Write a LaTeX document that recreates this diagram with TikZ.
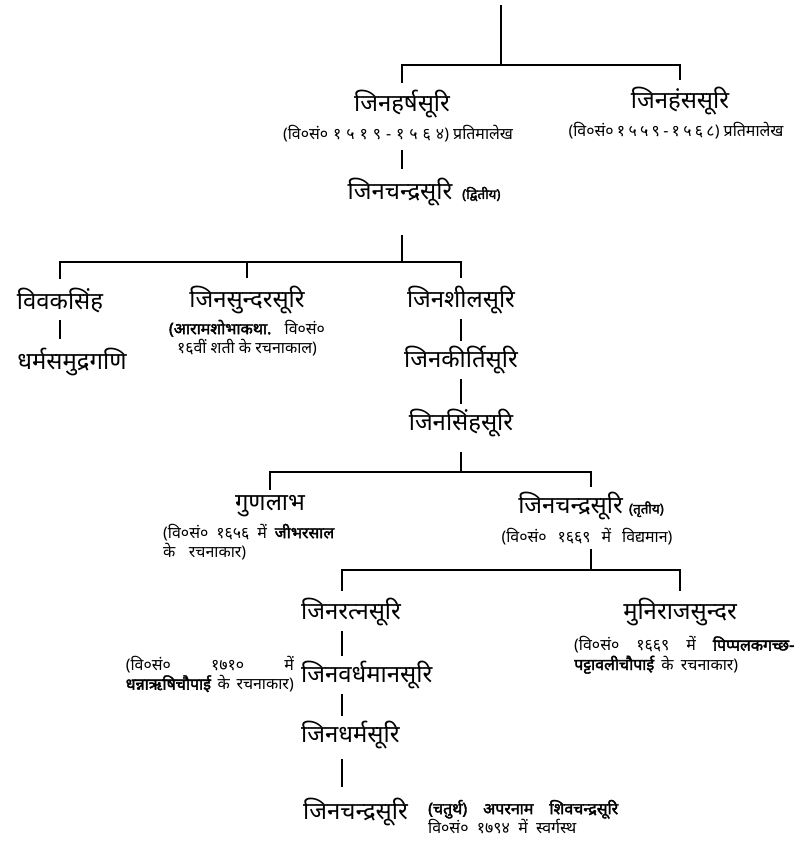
\documentclass[tikz,border=0pt]{standalone}
\usepackage{fontspec}
\newfontfamily\dev[Script=Devanagari, BoldFont=*, BoldFeatures={FakeBold=2.5}]{Noto Sans}
\newcommand{\gsp}{\hspace{0pt plus 1fil}}
\newcommand{\sline}[2]{\makebox[#1][s]{#2}}
\begin{document}
\begin{tikzpicture}[x=1bp,y=-1bp,
  nm/.style={font=\dev\fontsize{24}{28}\selectfont, inner sep=1bp},
  cp/.style={font=\dev\fontsize{16}{19.5}\selectfont, inner sep=1bp},
  tag/.style={font=\dev\bfseries\fontsize{13.5}{16}\selectfont, inner sep=1bp},
  ln/.style={line width=2bp},
  vl/.style={ln, shorten <=4bp, shorten >=4bp},
  br/.style={ln, shorten <=6bp, shorten >=6bp}]
\useasboundingbox (0,0) rectangle (800,842);
% level 1
\coordinate (top) at (501,5);
\coordinate (b1) at (501,65);
\node[nm] (harsh) at (402,104) {जिनहर्षसूरि};
\node[cp] (harshcap) at (398,134) {\sline{230bp}{(वि०सं०\gsp१\gsp५\gsp१\gsp९\gsp-\gsp१\gsp५\gsp६\gsp४) प्रतिमालेख}};
\node[nm] (hans) at (680,101) {जिनहंससूरि};
\node[cp] (hanscap) at (676,131) {\sline{215bp}{(वि०सं०\gsp१\gsp५\gsp५\gsp९\gsp-\gsp१\gsp५\gsp६\gsp८) प्रतिमालेख}};
\node[nm] (jc2) at (400,192) {जिनचन्द्रसूरि};
\node[tag, anchor=west] (jc2t) at (461,194) {(द्वितीय)};
% level 2
\coordinate (b2) at (402,262);
\node[nm] (vivak) at (60,300) {विवकसिंह};
\node[nm] (dharma) at (72,362) {धर्मसमुद्रगणि};
\node[nm] (sundar) at (247,300) {जिनसुन्दरसूरि};
\node[cp, align=center] (sundarcap) at (247,338) {\sline{156bp}{{\bfseries (आरामशोभाकथा.} वि०सं०}\\\sline{140bp}{१६वीं शती के रचनाकाल)}};
\node[nm] (sheel) at (461,300) {जिनशीलसूरि};
\node[nm] (kirti) at (461,360) {जिनकीर्तिसूरि};
\node[nm] (simha) at (461,423) {जिनसिंहसूरि};
% level 3
\coordinate (b3) at (461,472);
\node[nm] (gun) at (270,506) {गुणलाभ};
\node[cp, align=left, anchor=west] (guncap) at (162,542) {\sline{171bp}{(वि०सं० १६५६ में {\bfseries जीभरसाल}}\\\sline{83bp}{के रचनाकार)}};
\node[nm] (jc3) at (591,506) {जिनचन्द्रसूरि {\bfseries\fontsize{13.5}{16}\selectfont (तृतीय)}};
\node[cp] (jc3cap) at (587,537) {\sline{171bp}{(वि०सं० १६६९ में विद्यमान)}};
% level 4
\coordinate (b4) at (591,570);
\coordinate (lx) at (342,600);
\node[nm, anchor=west] (ratna) at (300,612) {जिनरत्नसूरि};
\node[nm] (muni) at (680,612) {मुनिराजसुन्दर};
\node[cp, align=left, anchor=west] (municap) at (573,655) {\sline{220bp}{(वि०सं० १६६९ में {\bfseries पिप्पलकगच्छ-}}\\\sline{164bp}{{\bfseries पट्टावलीचौपाई} के रचनाकार)}};
\node[nm, anchor=west] (vardh) at (300,675) {जिनवर्धमानसूरि};
\node[cp, align=left, anchor=east] (vardhcap) at (295,674) {\sline{168bp}{(वि०सं० १७१० में}\\\sline{168bp}{{\bfseries धन्नाऋषिचौपाई} के रचनाकार)}};
\node[nm, anchor=west] (dhar) at (300,735) {जिनधर्मसूरि};
\node[nm, anchor=west] (jc4) at (302,812) {जिनचन्द्रसूरि};
\node[cp, align=left, anchor=west] (jc4cap) at (427,817) {\sline{190bp}{{\bfseries (चतुर्थ) अपरनाम शिवचन्द्रसूरि}}\\\sline{148bp}{वि०सं० १७९४ में स्वर्गस्थ}};
% connectors
\draw[ln] (top) -- (b1);
\draw[br] (harsh.north) |- (b1) -| (hans.north);
\draw[ln, shorten <=6bp, shorten >=8bp] (harshcap.south -| harsh.south) -- (jc2.north -| harsh.south);
\draw[ln, shorten <=28bp] (jc2.south -| b2) -- (b2);
\draw[br, shorten <=7bp, shorten >=7bp] (vivak.north) |- (b2) -| (sheel.north);
\draw[ln, shorten <=7bp] (sundar.north) -- (sundar.north |- b2);
\draw[ln, shorten <=6bp, shorten >=8bp] (vivak.south) -- (vivak.south |- dharma.north);
\draw[vl] (sheel.south) -- (kirti.north);
\draw[vl] (kirti.south) -- (simha.north);
\draw[ln, shorten <=14bp] (simha.south) -- (b3);
\draw[br, shorten <=4bp, shorten >=4bp] (gun.north) |- (b3) -| (jc3.north);
\draw[ln, shorten <=2bp] (jc3cap.south -| b4) -- (b4);
\draw[br] (ratna.north -| lx) |- (b4) -| (muni.north);
\draw[vl] (ratna.south -| lx) -- (vardh.north -| lx);
\draw[vl] (vardh.south -| lx) -- (dhar.north -| lx);
\draw[ln, shorten <=9bp, shorten >=10bp] (dhar.south -| lx) -- (jc4.north -| lx);
\end{tikzpicture}
\end{document}
